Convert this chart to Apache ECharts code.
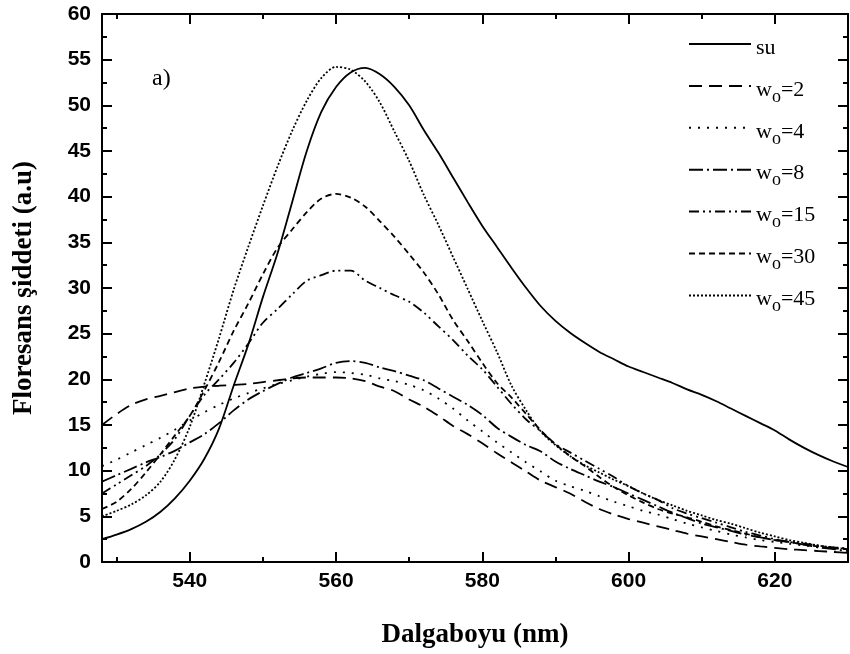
<!DOCTYPE html>
<html>
<head>
<meta charset="utf-8">
<script src="https://cdn.jsdelivr.net/npm/echarts@6/dist/echarts.min.js"></script>
<style>html,body{margin:0;padding:0;background:#fff;}#c{width:850px;height:654px;}</style>
</head>
<body>
<div id="c"></div>
<script>
// Wavelength grid (nm)
const wavelengths = [528,530,532,534,536,538,540,542,544,546,548,550,552,554,556,558,560,562,564,566,568,570,572,574,576,578,580,582,584,586,588,590,592,594,596,598,600,602,604,606,608,610,612,614,616,618,620,622,624,626,628,630];
// Series values (a.u)
const su   = [2.5,3.0,3.6,4.4,5.5,7.0,8.9,11.3,14.6,19.3,23.8,29.0,33.8,39.4,45.0,49.3,52.0,53.6,54.1,53.4,52.0,50.0,47.3,44.8,42.1,39.4,36.8,34.5,32.2,30.0,28.0,26.4,25.1,24.0,23.0,22.2,21.4,20.8,20.2,19.6,18.9,18.3,17.6,16.8,16.0,15.2,14.4,13.4,12.5,11.7,11.0,10.4];
const w2   = [15.0,16.2,17.2,17.8,18.2,18.6,19.0,19.2,19.3,19.4,19.5,19.7,19.9,20.1,20.2,20.2,20.2,20.1,19.8,19.2,18.7,17.8,17.0,16.0,14.9,14.0,13.0,11.9,10.9,9.9,8.9,8.2,7.5,6.6,5.8,5.2,4.7,4.3,3.9,3.5,3.1,2.8,2.5,2.2,1.9,1.7,1.55,1.4,1.3,1.2,1.1,1.0];
const w4   = [10.5,11.2,12.0,12.8,13.6,14.5,15.5,16.4,17.2,17.9,18.5,19.0,19.5,19.9,20.3,20.6,20.8,20.7,20.5,20.1,19.8,19.4,18.8,17.9,16.8,15.5,14.3,13.1,12.0,10.9,9.9,8.9,8.3,7.8,7.2,6.6,6.1,5.6,5.2,4.7,4.2,3.8,3.4,3.0,2.7,2.4,2.2,2.0,1.8,1.6,1.5,1.4];
const w8   = [8.8,9.5,10.2,10.9,11.5,12.2,13.1,14.0,15.2,16.6,17.8,18.7,19.5,20.2,20.7,21.2,21.8,22.0,21.8,21.3,20.9,20.4,19.9,19.0,18.1,17.2,16.1,14.7,13.7,12.8,12.1,11.0,10.2,9.5,8.8,8.2,7.5,6.8,6.1,5.4,4.8,4.2,3.8,3.4,3.0,2.7,2.4,2.2,1.9,1.6,1.4,1.2];
const w15  = [7.5,8.5,9.5,10.5,11.8,13.5,16.0,18.3,20.0,21.8,23.9,26.2,27.7,29.3,30.8,31.4,31.9,31.9,30.8,30.0,29.2,28.5,27.3,25.8,24.3,22.6,21.1,19.2,17.3,15.6,14.3,12.9,12.0,11.1,10.2,9.3,8.3,7.5,6.8,5.9,5.3,4.8,4.3,3.8,3.3,2.9,2.5,2.2,2.0,1.8,1.6,1.5];
const w30  = [5.8,6.6,8.0,9.8,11.8,13.9,16.0,18.8,21.9,25.3,28.3,31.5,34.4,36.4,38.3,39.8,40.3,39.9,38.9,37.3,35.6,33.7,31.7,29.3,26.5,24.2,21.8,19.6,18.0,16.2,14.4,12.9,11.6,10.5,9.3,8.2,7.3,6.5,5.8,5.3,4.9,4.4,3.9,3.5,3.1,2.7,2.4,2.2,1.9,1.7,1.5,1.4];
const w45  = [5.0,5.6,6.3,7.3,8.8,11.3,14.8,19.5,24.5,29.8,34.5,39.0,43.3,47.2,50.5,53.0,54.2,53.9,52.6,50.3,47.1,43.9,40.2,36.9,33.4,29.9,26.4,23.0,19.3,16.6,14.3,12.8,11.6,10.6,9.8,9.0,8.3,7.5,6.8,6.2,5.6,5.1,4.6,4.2,3.7,3.2,2.8,2.4,2.1,1.8,1.6,1.4];

const seriesNames = ['su','w2','w4','w8','w15','w30','w45'];
const legendLabels = ['su','w|o|=2','w|o|=4','w|o|=8','w|o|=15','w|o|=30','w|o|=45'];
const seriesValues = [su,w2,w4,w8,w15,w30,w45];
const dashTypes = ['solid',[13,7],[2,7],[14,4,2,4],[10,4,2,4,2,4],[6,4],[2,2]];

const xMajor = [540,560,580,600,620];
const xMinor = [530,550,570,590,610,630];

const chart = echarts.init(document.getElementById('c'), null, {renderer:'canvas'});

const labelFont = {fontFamily:'Liberation Sans', fontWeight:'bold', fontSize:21, color:'#000'};
const titleFont = {fontFamily:'Liberation Serif', fontWeight:'bold', fontSize:27, color:'#000'};

function xAxisCfg(pos, major, showLabel, showName){
  return {
    type:'value', min:528, max:630, position:pos,
    axisLine:{show:major, lineStyle:{color:'#000', width:2}},
    axisTick:{show:true, inside:true, length: major?10:5, lineStyle:{color:'#000', width:2}, customValues: major?xMajor:xMinor},
    axisLabel:{show:showLabel, customValues:xMajor, margin:9, ...labelFont},
    splitLine:{show:false},
    name: showName ? 'Dalgaboyu (nm)' : '',
    nameLocation:'middle', nameGap:60, nameTextStyle:titleFont
  };
}
function yAxisCfg(pos, showLabel, showName){
  return {
    type:'value', min:0, max:60, interval:5, position:pos,
    axisLine:{show:true, lineStyle:{color:'#000', width:2}},
    axisTick:{show:true, inside:true, length:10, lineStyle:{color:'#000', width:2}},
    minorTick:{show:true, splitNumber:2, length:5, lineStyle:{color:'#000', width:2}},
    axisLabel:{show:showLabel, margin:11, ...labelFont},
    splitLine:{show:false},
    name: showName ? 'Floresans şiddeti (a.u)' : '',
    nameLocation:'middle', nameGap:64, nameRotate:90, nameTextStyle:titleFont
  };
}

const series = seriesNames.map((n,i)=>({
  name:n, type:'line', xAxisIndex:0, yAxisIndex:0,
  data: wavelengths.map((w,j)=>[w, seriesValues[i][j]]),
  symbol:'none', smooth:0.3, animation:false,
  itemStyle:{color:'#000'},
  lineStyle:{color:'#000', width:1.8, type:dashTypes[i]}
}));

function legendText(name){
  const parts = legendLabels[seriesNames.indexOf(name)].split('|');
  let s = '{t|\u200b}{n|' + parts[0] + '}';
  if (parts.length > 1) s += '{s|' + parts[1] + '}{n|' + parts[2] + '}';
  else s += '{s|\u200b}';
  return s;
}

chart.setOption({
  animation:false,
  backgroundColor:'#fff',
  grid:{left:102, right:2, top:14, bottom:88, containLabel:false},
  xAxis:[xAxisCfg('bottom',true,true,true), xAxisCfg('bottom',false,false,false), xAxisCfg('top',true,false,false), xAxisCfg('top',false,false,false)],
  yAxis:[yAxisCfg('left',true,true), yAxisCfg('right',false,false)],
  legend:{
    orient:'vertical', left:683, top:27, itemWidth:62, itemHeight:14, itemGap:9.9,
    data:seriesNames,
    formatter:legendText,
    itemStyle:{opacity:0, color:'rgba(0,0,0,0)', borderWidth:0},
    lineStyle:{width:2, color:'#000'},
    textStyle:{
      fontFamily:'Liberation Serif', fontSize:22, color:'#000', lineHeight:24,
      rich:{
        t:{fontFamily:'Liberation Serif', fontSize:22, lineHeight:24, height:24, verticalAlign:'bottom'},
        n:{fontFamily:'Liberation Serif', fontSize:22, lineHeight:24, height:16, verticalAlign:'bottom', color:'#000'},
        s:{fontFamily:'Liberation Serif', fontSize:18, lineHeight:24, height:2, verticalAlign:'bottom', color:'#000'}
      }
    }
  },
  graphic:[{type:'text', left:152, top:67, style:{text:'a)', font:'24px "Liberation Serif"', fill:'#000'}}],
  series: series
});
</script>
</body>
</html>
